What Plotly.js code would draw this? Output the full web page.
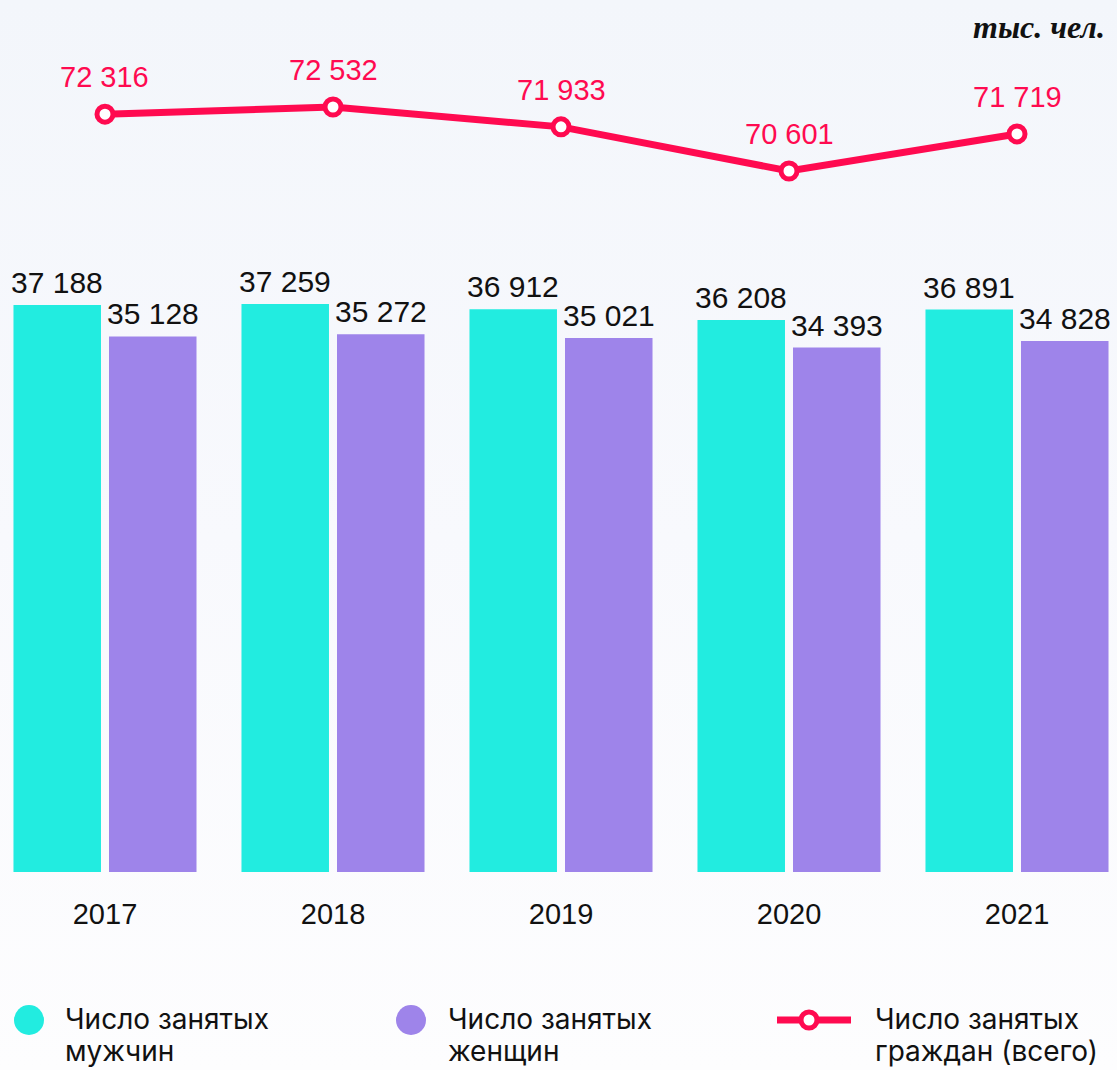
<!DOCTYPE html>
<html>
<head>
<meta charset="utf-8">
<script src="https://cdn.plot.ly/plotly-3.0.1.min.js"></script>
<style>
  html, body { margin: 0; padding: 0; }
  body { width: 1117px; height: 1070px; background: linear-gradient(to bottom, #f3f6fb 0%, #f8f9fd 50%, #fdfdfe 100%); }
  #chart { width: 1117px; height: 1070px; }
</style>
</head>
<body>
<div id="chart"></div>
<script>
const years = ['2017', '2018', '2019', '2020', '2021'];
const men = [37188, 37259, 36912, 36208, 36891];
const women = [35128, 35272, 35021, 34393, 34828];
const total = [72316, 72532, 71933, 70601, 71719];
const legendLine1 = ['Число занятых', 'Число занятых', 'Число занятых'];
const legendLine2 = ['мужчин', 'женщин', 'граждан (всего)'];
const unitLabel = 'тыс. чел.';

const C_MEN = '#22ECE0';
const C_WOMEN = '#9E84EA';
const C_TOTAL = '#FF0A50';

const W = 1117, H = 1070, MB = 198, PH = H - MB;
const px = x => x / W;
const py = y => (PH - y) / PH;

function fmt(v) { return String(v).replace(/\B(?=(\d{3})+(?!\d))/g, ' '); }

const valueFont = { family: 'Liberation Sans, Arial, sans-serif', size: 30, color: '#111111' };
const BAR_OFF = 0.2094;

const traces = [
  { type: 'bar', x: years, y: men, name: 'men', marker: { color: C_MEN },
    showlegend: false, hoverinfo: 'skip' },
  { type: 'bar', x: years, y: women, name: 'women', marker: { color: C_WOMEN },
    showlegend: false, hoverinfo: 'skip' },
  { type: 'scatter', mode: 'lines+markers', x: years, y: total, yaxis: 'y2',
    line: { color: C_TOTAL, width: 7 },
    marker: { size: 16, color: '#ffffff', line: { color: C_TOTAL, width: 5 } },
    showlegend: false, hoverinfo: 'skip', cliponaxis: false }
];

const annotations = [];
men.forEach((v, i) => annotations.push({
  x: i - BAR_OFF, y: v, xref: 'x', yref: 'y', yanchor: 'bottom', xanchor: 'center',
  yshift: 4, showarrow: false, text: fmt(v), font: valueFont
}));
women.forEach((v, i) => annotations.push({
  x: i + BAR_OFF, y: v, xref: 'x', yref: 'y', yanchor: 'bottom', xanchor: 'center',
  yshift: 4, showarrow: false, text: fmt(v), font: valueFont
}));
total.forEach((v, i) => annotations.push({
  x: i, y: v, xref: 'x', yref: 'y2', yanchor: 'bottom', xanchor: 'center',
  yshift: 19, showarrow: false, text: fmt(v),
  font: { family: 'Liberation Sans, Arial, sans-serif', size: 29, color: C_TOTAL }
}));

annotations.push({
  x: px(1107), y: py(27), xref: 'paper', yref: 'paper', xanchor: 'right', yanchor: 'middle',
  showarrow: false, text: '<i><b>' + unitLabel + '</b></i>',
  font: { family: 'Liberation Serif, Times New Roman, serif', size: 32, color: '#111111' }
});

const legendFont = { family: 'Inter, Roboto, sans-serif', size: 28, color: '#111111' };
const legX = [63, 446, 873];
legendLine1.forEach((t, i) => {
  annotations.push({
    x: px(legX[i]), y: py(1019), xref: 'paper', yref: 'paper', xanchor: 'left', yanchor: 'middle',
    align: 'left', showarrow: false, text: t, font: legendFont
  });
  annotations.push({
    x: px(legX[i]), y: py(1051), xref: 'paper', yref: 'paper', xanchor: 'left', yanchor: 'middle',
    align: 'left', showarrow: false, text: legendLine2[i], font: legendFont
  });
});

const shapes = [
  { type: 'circle', xref: 'paper', yref: 'paper', x0: px(14), x1: px(44), y0: py(1005), y1: py(1035),
    fillcolor: C_MEN, line: { width: 0 } },
  { type: 'circle', xref: 'paper', yref: 'paper', x0: px(396), x1: px(426), y0: py(1005), y1: py(1035),
    fillcolor: C_WOMEN, line: { width: 0 } },
  { type: 'line', xref: 'paper', yref: 'paper', x0: px(777), x1: px(851), y0: py(1020), y1: py(1020),
    line: { color: C_TOTAL, width: 7 } },
  { type: 'circle', xref: 'paper', yref: 'paper', x0: px(801), x1: px(817), y0: py(1012), y1: py(1028),
    fillcolor: '#ffffff', line: { color: C_TOTAL, width: 5 } }
];

const layout = {
  width: W, height: H,
  margin: { l: 0, r: 0, t: 0, b: MB, pad: 0 },
  paper_bgcolor: 'rgba(0,0,0,0)', plot_bgcolor: 'rgba(0,0,0,0)',
  barmode: 'group', bargap: 0.162, bargroupgap: 0.084,
  showlegend: false,
  xaxis: {
    type: 'category', range: [-0.4605, 4.4386], showgrid: false, zeroline: false, showline: false,
    ticks: '', ticklabelstandoff: 22,
    tickfont: { family: 'Liberation Sans, Arial, sans-serif', size: 29, color: '#111111' }
  },
  yaxis: { range: [0, 57191], visible: false, showgrid: false, zeroline: false },
  yaxis2: { range: [49448, 75761], overlaying: 'y', visible: false, showgrid: false, zeroline: false },
  annotations: annotations,
  shapes: shapes
};

Plotly.newPlot('chart', traces, layout, { staticPlot: true, displayModeBar: false });
</script>
</body>
</html>
